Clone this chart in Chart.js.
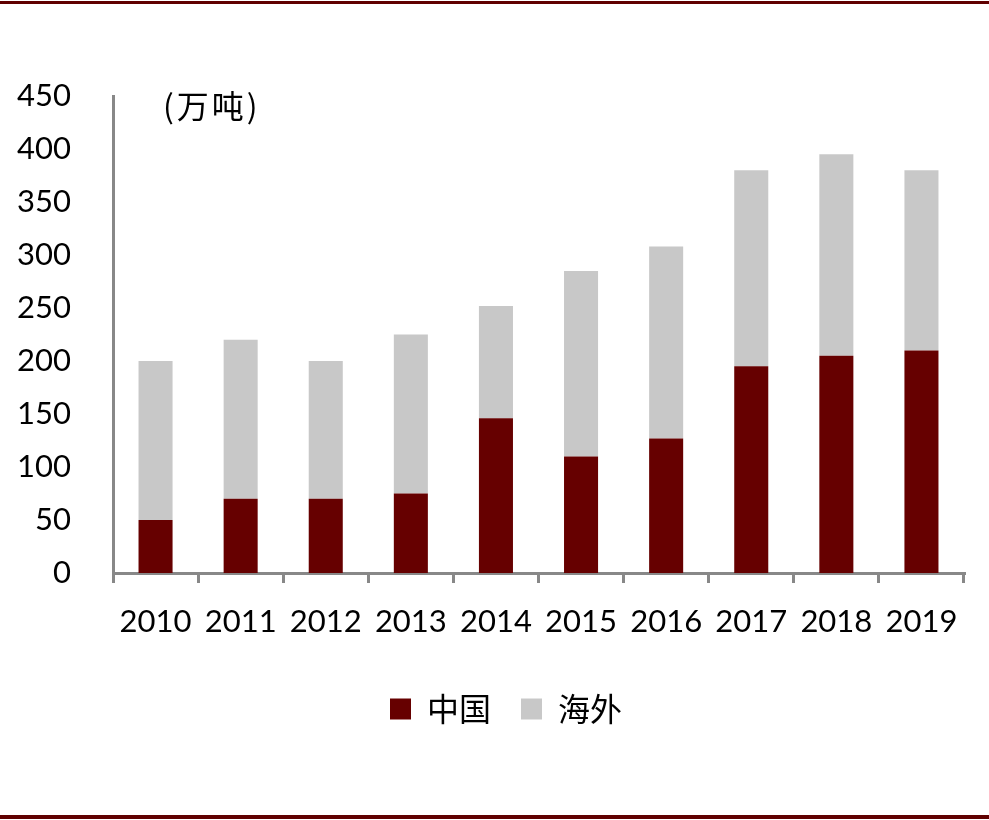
<!DOCTYPE html>
<html lang="zh">
<head>
    <meta charset="UTF-8">
    <title>中国与海外</title>
    <script src="https://cdn.jsdelivr.net/npm/chart.js"></script>
    <style>
        html, body {
            margin: 0;
            padding: 0;
            background: #ffffff;
        }
        .wrap {
            width: 989px;
            height: 820px;
            position: relative;
        }
    </style>
</head>
<body>
<div class="wrap">
    <canvas id="grafico" width="989" height="820"></canvas>
</div>

<script>
    // Datos (万吨)
    const anios = ['2010', '2011', '2012', '2013', '2014', '2015', '2016', '2017', '2018', '2019'];
    const china = [50, 70, 70, 75, 146, 110, 127, 195, 205, 210];
    const haiwai = [150, 150, 130, 150, 106, 175, 181, 185, 190, 170];
    const nombres = ['中国', '海外'];
    const unidad = '(万吨)';

    const rojo = '#660000';
    const gris = '#c8c8c8';
    const ejeColor = '#888888';

    Chart.defaults.font.family = "Lato, 'Noto Sans CJK SC', sans-serif";
    Chart.defaults.color = '#000000';

    // líneas superior/inferior, la unidad y leyenda un poco a la derecha
    const decoracion = {
        id: 'decoracion',
        afterLayout(chart) {
            chart.legend.left += 48;
        },
        afterDraw(chart) {
            const ctx = chart.ctx;
            ctx.save();
            ctx.fillStyle = '#600000';
            ctx.fillRect(0, 1, chart.width, 3);
            ctx.fillRect(0, 815, chart.width, 4);
            ctx.fillStyle = '#000000';
            ctx.font = "32px 'Noto Sans CJK SC', sans-serif";
            ctx.letterSpacing = '3px';
            ctx.textBaseline = 'middle';
            ctx.fillText(unidad, 163, 106);
            ctx.restore();
        }
    };

    new Chart(document.getElementById('grafico').getContext('2d'), {
        type: 'bar',
        data: {
            labels: anios,
            datasets: [{
                label: nombres[0],
                data: china,
                backgroundColor: rojo,
                categoryPercentage: 1,
                barPercentage: 0.4
            }, {
                label: nombres[1],
                data: haiwai,
                backgroundColor: gris,
                categoryPercentage: 1,
                barPercentage: 0.4
            }]
        },
        options: {
            responsive: false,
            animation: false,
            devicePixelRatio: 1,
            layout: {
                padding: { top: 96, right: 25, left: 0, bottom: 85 }
            },
            plugins: {
                tooltip: { enabled: false },
                legend: {
                    position: 'bottom',
                    labels: {
                        boxWidth: 21,
                        boxHeight: 21,
                        padding: 30,
                        font: { size: 32, family: "'Noto Sans CJK SC', sans-serif" }
                    }
                }
            },
            scales: {
                x: {
                    stacked: true,
                    grid: {
                        display: true,
                        drawOnChartArea: false,
                        drawTicks: true,
                        tickLength: 10,
                        color: ejeColor,
                        lineWidth: 3
                    },
                    border: { display: true, color: ejeColor, width: 3 },
                    ticks: {
                        padding: 20,
                        maxRotation: 0,
                        font: { size: 31 }
                    },
                    afterFit(scale) { scale.height = 90; }
                },
                y: {
                    stacked: true,
                    min: 0,
                    max: 450,
                    grid: { display: false },
                    border: { display: true, color: ejeColor, width: 3 },
                    ticks: {
                        stepSize: 50,
                        padding: 34,
                        font: { size: 31 }
                    },
                    afterFit(scale) { scale.width = 113; }
                }
            }
        },
        plugins: [decoracion]
    });
</script>
</body>
</html>
